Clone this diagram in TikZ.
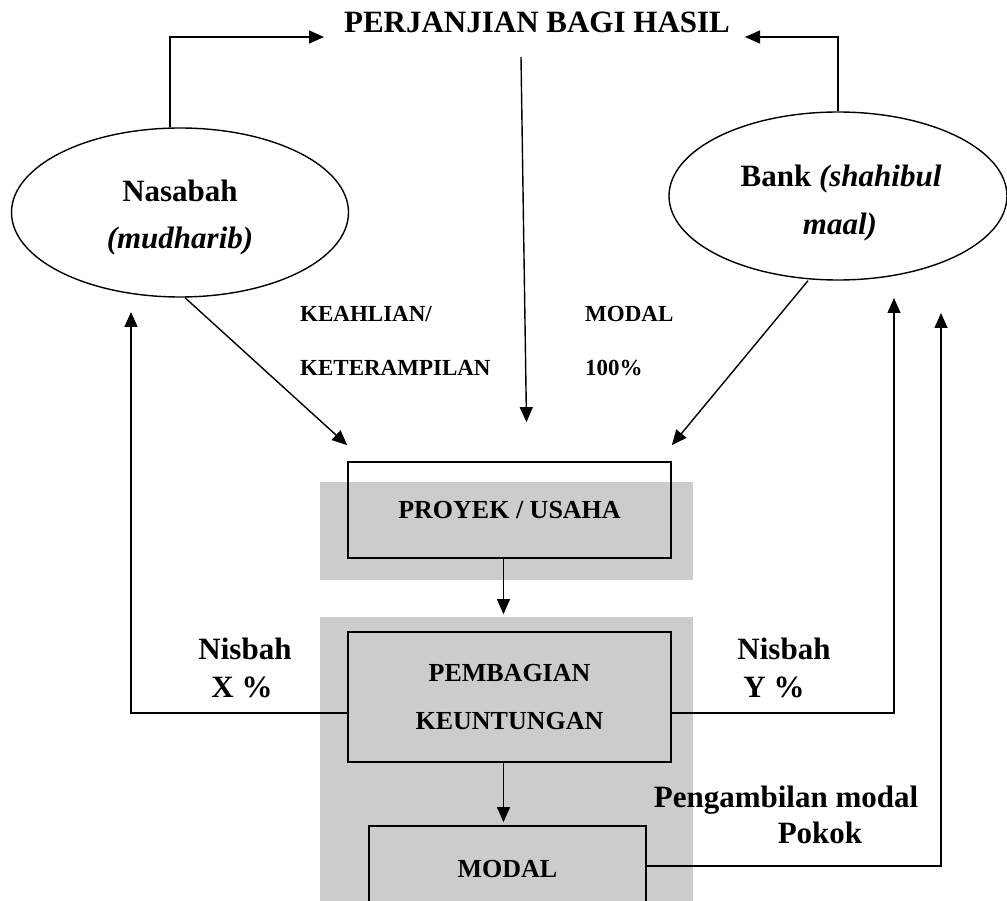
\documentclass[tikz,border=0pt]{standalone}
\usepackage{fontspec}
\setmainfont{Liberation Serif}
\usetikzlibrary{arrows.meta,shapes.geometric,calc}
\begin{document}
\begin{tikzpicture}[x=1pt,y=-1pt,
  arr/.style={draw, line width=1.4pt, -{Triangle[length=15pt,width=13pt]}},
  big/.style={font=\bfseries\fontsize{31}{37}\selectfont, inner sep=0pt},
  mid/.style={font=\bfseries\fontsize{26}{48}\selectfont},
  small/.style={font=\bfseries\fontsize{23}{28}\selectfont, inner sep=0pt},
  oval/.style={ellipse, draw, line width=1.4pt, inner sep=0pt},
  box/.style={draw, line width=1.7pt, align=center, inner sep=0pt}]
\path[use as bounding box] (0,0) rectangle (1007,901);
\clip (0,0) rectangle (1007,901);
% watermark shading behind the central boxes
\fill[black!20] (320,482) rectangle (693,580);
\fill[black!20] (320,617) rectangle (693,901);

% title
\node[big, anchor=base] (ttl) at (537,33) {PERJANJIAN BAGI HASIL};

% ellipses
\node[oval, minimum width=337pt, minimum height=169pt] (nas) at (180,212.5) {};
\node[big, anchor=base] (nasA) at (180,202) {Nasabah};
\node[big, anchor=base] (nasB) at (180,249) {\textit{(mudharib)}};

\node[oval, minimum width=338pt, minimum height=168pt] (bank) at (838,196) {};
\node[big, anchor=base] (bankA) at (841,187) {Bank \textit{(shahibul}};
\node[big, anchor=base] (bankB) at (840,235) {\textit{maal)}};

% labels
\node[small, anchor=base west] (lk1) at (300,322) {KEAHLIAN/};
\node[small, anchor=base west] (lk2) at (300,375) {KETERAMPILAN};
\node[small, anchor=base west] (lm1) at (585,322) {MODAL};
\node[small, anchor=base west] (lm2) at (585,375) {100\%};

% boxes
\node[box, mid, minimum width=323pt, minimum height=96pt] (proj) at (509.5,510) {PROYEK / USAHA};
\node[box, mid, minimum width=323pt, minimum height=130pt] (pemb) at (509.5,697) {PEMBAGIAN\\KEUNTUNGAN};
\node[box, mid, minimum width=277pt, minimum height=86pt] (modal) at (507.5,869) {MODAL};

% side labels
\node[big, anchor=base] (nx1) at (245,659) {Nisbah};
\node[big, anchor=base] (nx2) at (242,697) {X \%};
\node[big, anchor=base] (ny1) at (784,659) {Nisbah};
\node[big, anchor=base] (ny2) at (774,697) {Y \%};
\node[big, anchor=base] (pm1) at (786,807) {Pengambilan modal};
\node[big, anchor=base] (pm2) at (820,843) {Pokok};

% connectors
\coordinate (tl) at (324,37);
\coordinate (tr) at (745,37);
\coordinate (ctop) at (521,57);
\coordinate (xl) at (131,312);
\coordinate (yr) at (894,298);
\coordinate (pk) at (941,313);

\draw[arr] ($(nas.north)+(-10,0)$) |- (tl);
\draw[arr] (bank.north) |- (tr);
\draw[arr] (ctop) -- ($(proj.north)+(17,-39)$);
\draw[arr] ($(nas.south)+(5,0)$) -- ($(proj.north west)+(0,-16)$);
\draw[arr] ($(bank.south)+(-30,0)$) -- ($(proj.north east)+(0,-16)$);
\draw[arr] ($(proj.south)+(-6,0)$) -- ($(pemb.north)+(-6,-17)$);
\draw[arr] ($(pemb.south)+(-6,0)$) -- ($(modal.north)+(-4,-3)$);
\draw[arr] ($(pemb.west)+(0,16)$) -| (xl);
\draw[arr] ($(pemb.east)+(0,16)$) -| (yr);
\draw[arr] ($(modal.east)+(0,-3)$) -| (pk);
\end{tikzpicture}
\end{document}
